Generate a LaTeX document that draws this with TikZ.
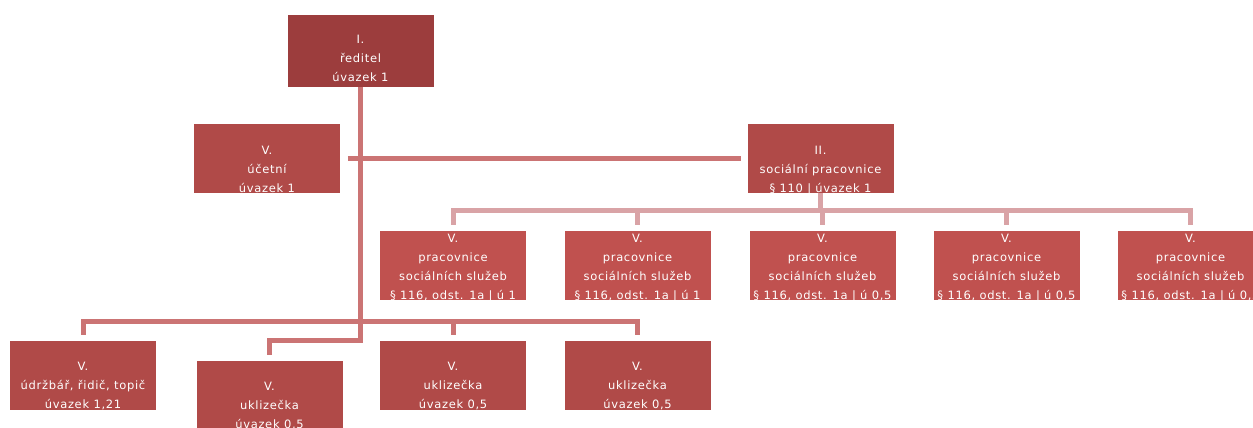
\documentclass[tikz,border=0pt]{standalone}
\usepackage{fontspec}
\setmainfont{DejaVu Sans}[LetterSpace=6]
\usetikzlibrary{calc}
\definecolor{boxdark}{HTML}{9C3D3D}
\definecolor{boxmid}{HTML}{B04A48}
\definecolor{boxlight}{HTML}{C0514F}
\definecolor{linemid}{HTML}{CB7474}
\definecolor{linelight}{HTML}{D9A3A6}
\begin{document}
\begin{tikzpicture}[x=1pt,y=-1pt,
  box/.style={draw=white, line width=0.6pt, minimum width=147pt, minimum height=70pt, inner sep=0pt},
  lbl/.style={text=white, font=\fontsize{11.5}{19}\selectfont, align=center, anchor=base, inner sep=0pt},
  conn/.style={line width=5pt}]
\useasboundingbox (0,0) rectangle (1253,428);
\clip (0,0) rectangle (1253,428);
% boxes
\node[box, fill=boxdark, minimum height=73pt] (dir) at (360.5,50.5) {};
\node[box, fill=boxmid] (ucet) at (267,158) {};
\node[box, fill=boxmid] (soc) at (820.5,158) {};
\node[box, fill=boxlight] (p1) at (453,265) {};
\node[box, fill=boxlight] (p2) at (637.5,265) {};
\node[box, fill=boxlight] (p3) at (822.5,265) {};
\node[box, fill=boxlight] (p4) at (1006.5,265) {};
\node[box, fill=boxlight] (p5) at (1190.5,265) {};
\node[box, fill=boxmid] (udr) at (83,375) {};
\node[box, fill=boxmid] (ukl1) at (269.5,395) {};
\node[box, fill=boxmid] (ukl2) at (453,375) {};
\node[box, fill=boxmid] (ukl3) at (637.5,375) {};
% labels
\node[lbl] (tdir) at ($(dir.south)+(0,-6)$) {I.\\ředitel\\úvazek 1};
\node[lbl] (tucet) at ($(ucet.south)+(0,-1)$) {V.\\účetní\\úvazek 1};
\node[lbl] (tsoc) at ($(soc.south)+(0,-1)$) {II.\\sociální pracovnice\\§ 110 | úvazek 1};
\node[lbl] (tp1) at ($(p1.south)+(0,-1)$) {V.\\pracovnice\\sociálních služeb\\§ 116, odst. 1a | ú 1};
\node[lbl] (tp2) at ($(p2.south)+(0,-1)$) {V.\\pracovnice\\sociálních služeb\\§ 116, odst. 1a | ú 1};
\node[lbl] (tp3) at ($(p3.south)+(0,-1)$) {V.\\pracovnice\\sociálních služeb\\§ 116, odst. 1a | ú 0,5};
\node[lbl] (tp4) at ($(p4.south)+(0,-1)$) {V.\\pracovnice\\sociálních služeb\\§ 116, odst. 1a | ú 0,5};
\node[lbl] (tp5) at ($(p5.south)+(0,-1)$) {V.\\pracovnice\\sociálních služeb\\§ 116, odst. 1a | ú 0,5};
\node[lbl] (tudr) at ($(udr.south)+(0,-2)$) {V.\\údržbář, řidič, topič\\úvazek 1,21};
\node[lbl] (tukl1) at ($(ukl1.south)+(0,-2)$) {V.\\uklizečka\\úvazek 0,5};
\node[lbl] (tukl2) at ($(ukl2.south)+(0,-2)$) {V.\\uklizečka\\úvazek 0,5};
\node[lbl] (tukl3) at ($(ukl3.south)+(0,-2)$) {V.\\uklizečka\\úvazek 0,5};
% connectors
\draw[conn, linemid] ($(ucet.east)+(7,0)$) -- ($(soc.west)+(-6,0)$);
\draw[conn, linemid] (dir.south) |- ($(ukl1.north)+(0,-19)$) -- ($(ukl1.north)+(0,-5)$);
\draw[conn, linemid] ($(udr.north)+(0,-5)$) |- ($(ukl3.north)+(0,-18)$) -- ($(ukl3.north)+(0,-5)$);
\draw[conn, linemid] ($(ukl2.north)+(0,-5)$) -- ($(ukl2.north)+(0,-18)$);
\draw[conn, linelight] (soc.south) -- ($(soc.south)+(0,19)$);
\draw[conn, linelight] ($(p1.north)+(0,-5)$) |- ($(p5.north)+(0,-19)$) -- ($(p5.north)+(0,-5)$);
\draw[conn, linelight] ($(p2.north)+(0,-5)$) -- ($(p2.north)+(0,-19)$);
\draw[conn, linelight] ($(p3.north)+(0,-5)$) -- ($(p3.north)+(0,-19)$);
\draw[conn, linelight] ($(p4.north)+(0,-5)$) -- ($(p4.north)+(0,-19)$);
\end{tikzpicture}
\end{document}
